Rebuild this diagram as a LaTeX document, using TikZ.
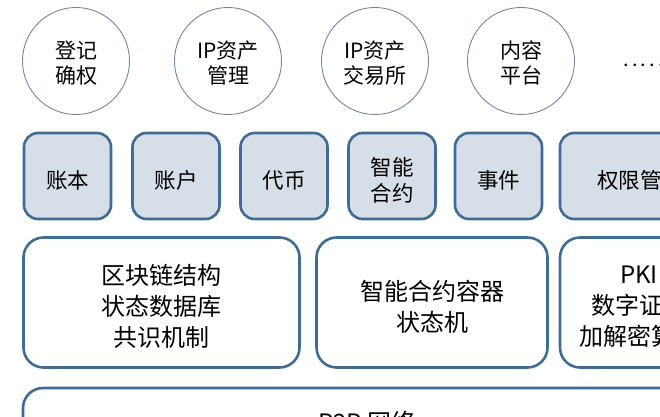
\documentclass[tikz,border=0pt]{standalone}
\usepackage{fontspec}
\setmainfont{Noto Sans CJK SC}
\usepackage{tikz}
\usetikzlibrary{positioning}
\definecolor{layerblue}{RGB}{62, 108, 150}
\definecolor{modulefill}{RGB}{214, 222, 232}
\definecolor{appgray}{RGB}{118, 134, 150}

\begin{document}
\begin{tikzpicture}[
    x=1pt, y=-1pt,
    app/.style={circle, draw=appgray, line width=0.9pt, minimum size=107pt, inner sep=0pt},
    module/.style={draw=layerblue, fill=modulefill, line width=2.6pt, rounded corners=14pt,
        minimum height=86pt, inner sep=0pt},
    layer/.style={draw=layerblue, line width=2.6pt, rounded corners=20pt, inner sep=0pt},
    apptext/.style={font=\fontsize{21}{25.5}\selectfont, align=center, yshift=-2pt},
    modtext/.style={font=\fontsize{21.5}{26}\selectfont, align=center, yshift=-4pt},
    laytext/.style={font=\fontsize{24}{31}\selectfont, align=center, yshift=-4pt},
]
    \useasboundingbox (0,0) rectangle (660,416);
    \clip (0,0) rectangle (660,416);

    % Applications
    \node[app] (reg) at (76,61) {};
    \node[app] (ipm) at (228,61) {};
    \node[app] (ipx) at (375,61) {};
    \node[app] (cnt) at (521,61) {};
    \node[apptext] at (reg) {登记\\确权};
    \node[apptext] at (ipm) {IP资产\\管理};
    \node[apptext] at (ipx) {IP资产\\交易所};
    \node[apptext] at (cnt) {内容\\平台};
    \node[font=\fontsize{20}{25}\selectfont, anchor=base west, inner sep=0pt] (more)
        at (623,66) {.\,.\,.\,.\,.};

    % Modules
    \node[module, minimum width=87pt] (ledger) at (67.5,176) {};
    \node[module, minimum width=87pt] (account) at (176,176) {};
    \node[module, minimum width=87pt] (token) at (284,176) {};
    \node[module, minimum width=87pt] (contract) at (392,176) {};
    \node[module, minimum width=87pt] (event) at (498.5,176) {};
    \node[module, minimum width=156pt] (perm) at (638,176) {};
    \node[modtext] at (ledger) {账本};
    \node[modtext] at (account) {账户};
    \node[modtext] at (token) {代币};
    \node[modtext] at (contract) {智能\\合约};
    \node[modtext] at (event) {事件};
    \node[modtext] at (640,176) {权限管理};

    % Core layers
    \node[layer, minimum width=276pt, minimum height=130pt] (chain) at (161.5,302.5) {};
    \node[layer, minimum width=231pt, minimum height=130pt] (vm) at (432,302.5) {};
    \node[layer, minimum width=158pt, minimum height=130pt] (pki) at (639,302.5) {};
    \node[laytext] at (chain) {区块链结构\\状态数据库\\共识机制};
    \node[laytext] at (vm) {智能合约容器\\状态机};
    \node[laytext] at (pki) {PKI\\数字证书\\加解密算法};

    % Network
    \node[layer, minimum width=700pt, minimum height=70pt] (net) at (373,423) {};
    \node[font=\fontsize{24}{31}\selectfont, anchor=base west, inner sep=0pt] (p2p)
        at (318,431) {P2P 网络};
\end{tikzpicture}
\end{document}
